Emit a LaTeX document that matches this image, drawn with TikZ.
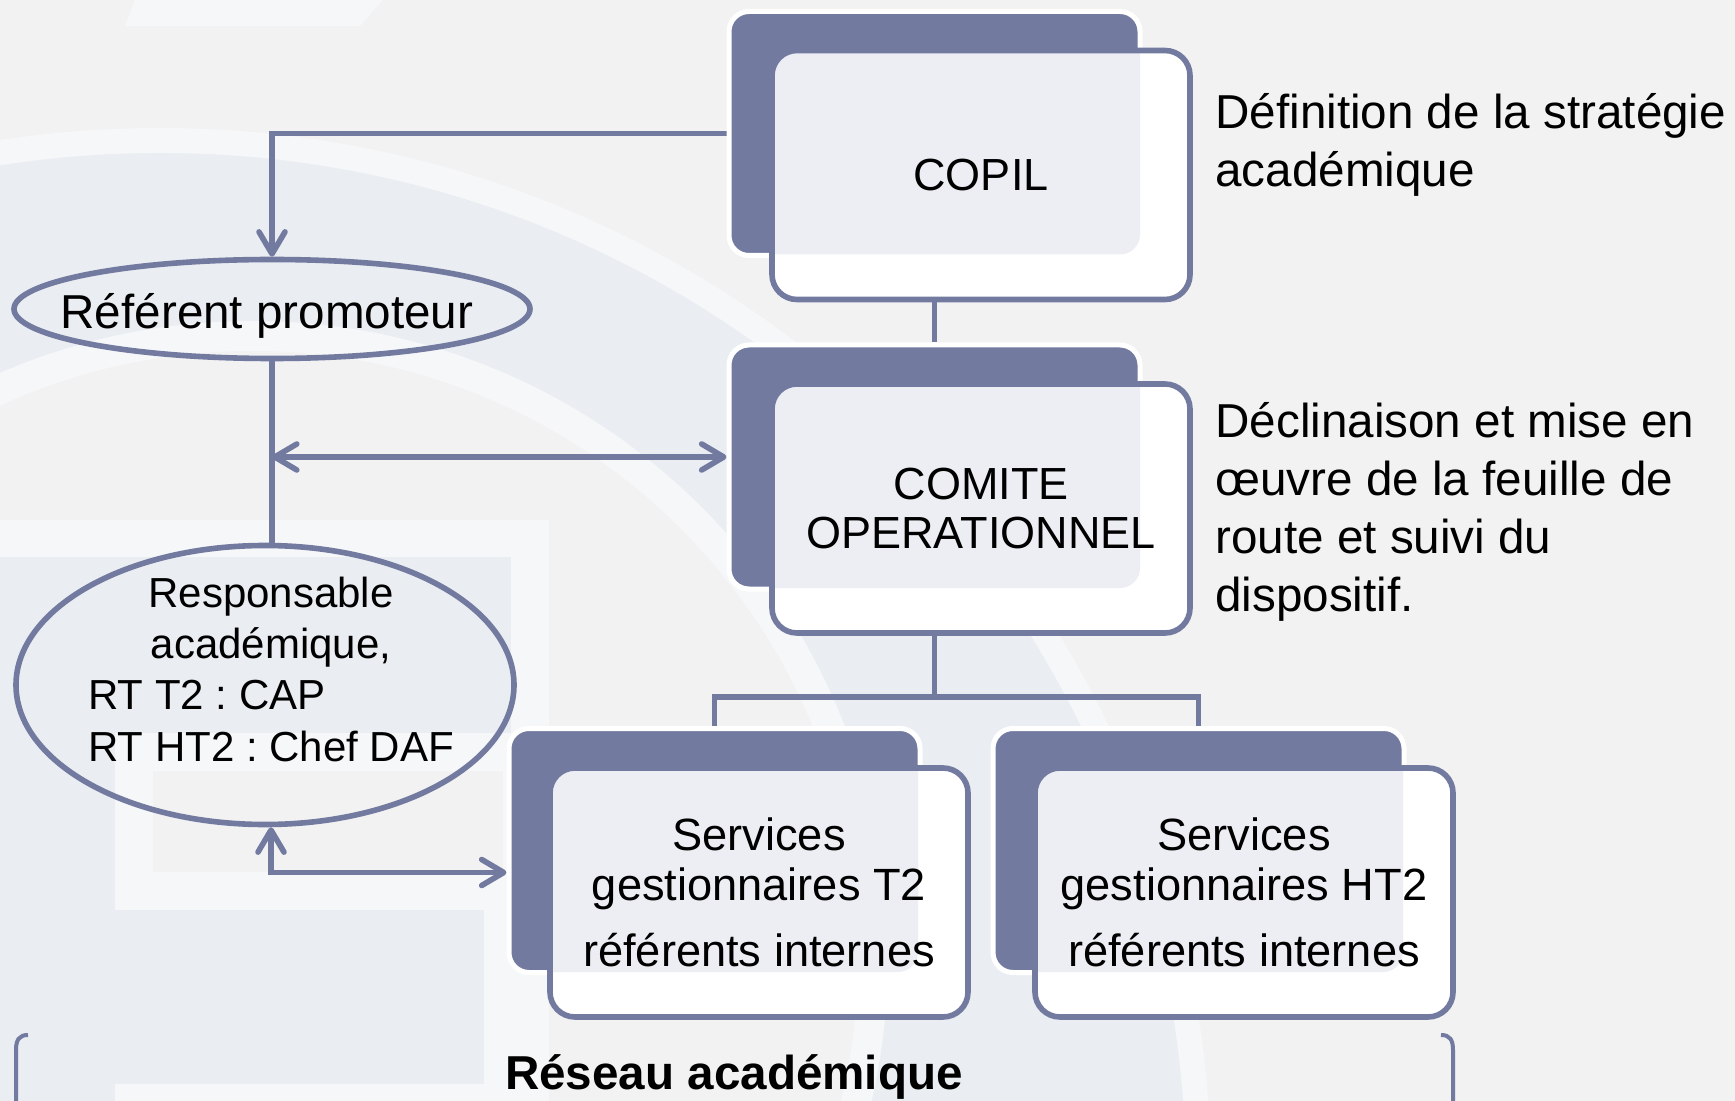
\documentclass[tikz,border=0pt]{standalone}
\usepackage{fontspec}
\setmainfont{Liberation Sans}
\usetikzlibrary{shapes.geometric,arrows.meta}
\frenchspacing

\definecolor{slate}{RGB}{114,122,160}
\definecolor{paper}{RGB}{242,242,242}
\definecolor{haze}{RGB}{246,247,249}
\definecolor{mist}{RGB}{234,237,242}
\definecolor{grain}{RGB}{236,238,244}

\pgfdeclarelayer{back}
\pgfdeclarelayer{wires}
\pgfsetlayers{back,wires,main}

\tikzset{
    backbox/.style={draw=white, line width=2.5pt, fill=slate, rounded corners=10pt,
        minimum width=205.5pt, minimum height=122pt, inner sep=0pt},
    frontbox/.style={draw=slate, line width=2.8pt, fill=white, rounded corners=12.5pt,
        minimum width=209pt, minimum height=124.5pt, inner sep=0pt, align=center,
        path picture={\fill[grain, rounded corners=10pt]
            ([xshift=-10pt,yshift=10pt]path picture bounding box.north west) rectangle
            ([xshift=-25pt,yshift=22.5pt]path picture bounding box.south east);}},
    oval/.style={ellipse, draw=slate, line width=2.8pt, inner sep=0pt},
    wire/.style={draw=slate, line width=2.8pt},
    sidetext/.style={font=\fontsize{23.8}{29}\selectfont, align=left, inner sep=0pt, anchor=north west},
    >={Straight Barb[length=11pt,width=13pt,round]},
}

\begin{document}
\begin{tikzpicture}[x=0.5pt, y=-0.5pt]
    \useasboundingbox (0,0) rectangle (1735,1101);

    % watermark
    \begin{pgfonlayer}{back}
        \fill[paper] (0,0) rectangle (1735,1101);
        \fill[haze] (135,0) -- (383,0) -- (360,26) -- (125,26) -- cycle;
        \fill[haze] (160,1179) circle (525.5pt);
        \fill[mist] (160,1179) circle (513pt);
        \fill[haze] (252,957) circle (318pt);
        \fill[paper] (252,957) circle (303pt);
        \fill[haze] (0,520) rectangle (549,1101);
        \fill[mist] (0,557) rectangle (511,733);
        \fill[mist] (0,557) rectangle (115,1101);
        \fill[mist] (0,910) rectangle (484,1084);
        \fill[paper] (153,771) rectangle (503,872);
    \end{pgfonlayer}

    % boxes
    \node[backbox] (copilbg) at (934.5,133.5) {};
    \node[frontbox, font=\fontsize{22.5}{27}\selectfont] (copil) at (981,175) {COPIL};
    \node[backbox] (comitebg) at (934.5,467) {};
    \node[frontbox, font=\fontsize{22.5}{24.5}\selectfont] (comite) at (981,508.5) {COMITE\\OPERATIONNEL};
    \node[backbox] (t2bg) at (714.5,850.5) {};
    \node[frontbox, font=\fontsize{22.6}{25}\selectfont] (t2) at (759,892.5)
        {Services\\gestionnaires T2\\[8pt]référents internes};
    \node[backbox] (ht2bg) at (1198.5,850.5) {};
    \node[frontbox, font=\fontsize{22.6}{25}\selectfont] (ht2) at (1244,892.5)
        {Services\\gestionnaires HT2\\[8pt]référents internes};

    % ellipses
    \node[oval, minimum width=258pt, minimum height=49.5pt] (referent) at (272,309) {};
    \node[font=\fontsize{23.8}{29}\selectfont, inner sep=0pt] (refname) at (267,315.5) {Référent promoteur};
    \node[oval, minimum width=249pt, minimum height=139.5pt] (resp) at (265,685) {};
    \node[font=\fontsize{21}{25.7}\selectfont, inner sep=0pt] (respname) at (271,674)
        {\begin{tabular}{@{}l@{}}
            \multicolumn{1}{@{}c@{}}{Responsable}\\
            \multicolumn{1}{@{}c@{}}{académique,}\\
            RT T2 : CAP\\
            RT HT2 : Chef DAF
        \end{tabular}};

    % notes
    \node[sidetext] (copilnote) at (1215,93) {Définition de la stratégie\\académique};
    \node[sidetext] (comitenote) at (1215,402) {Déclinaison et mise en\\œuvre de la feuille de\\route et suivi du\\dispositif.};
    \node[font=\bfseries\fontsize{23.8}{29}\selectfont, anchor=base, inner sep=0pt] (reseau) at (734,1089) {Réseau académique};

    % brackets
    \draw[slate, line width=2pt] (28,1035) .. controls (19,1035) and (16,1040) .. (16,1050) -- (16,1110);
    \draw[slate, line width=2pt] (1441,1035) .. controls (1450,1035) and (1453,1040) .. (1453,1050) -- (1453,1110);

    % links
    \coordinate (split) at (934.5,697);
    \coordinate (link) at (272,457);
    \begin{pgfonlayer}{wires}
        \draw[wire] (copilbg.south) -- (comitebg.north);
        \draw[wire] (comitebg.south) -- (split);
        \draw[wire] (t2bg.north) |- (split) -| (ht2bg.north);
        \draw[wire, ->] (copilbg.west) -| (referent.north);
        \draw[wire] (referent.south) -- (referent.south |- resp.north);
        \draw[wire, <->] (link) -- (link -| comitebg.west);
        \draw[wire, <->] ([xshift=3pt]resp.south) |- ([yshift=-11pt]t2bg.west);
    \end{pgfonlayer}
\end{tikzpicture}
\end{document}
